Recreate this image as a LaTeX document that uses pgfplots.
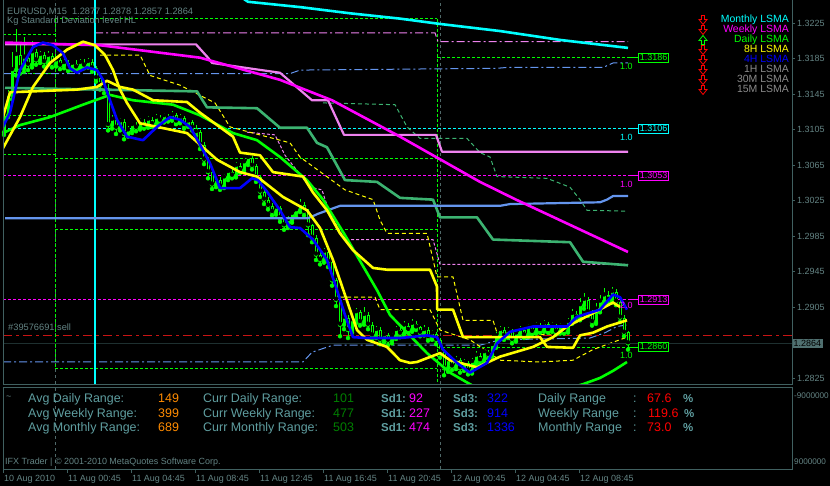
\documentclass[border=0pt]{standalone}
\usepackage{pgfplots}
\pgfplotsset{compat=1.18}
\usepackage{pgfplotstable}
\usepackage{fontspec}
\setmainfont{Liberation Sans}
\definecolor{axcol}{RGB}{64,96,96}
\definecolor{axbox}{RGB}{80,112,112}
\definecolor{txtcol}{RGB}{100,132,132}
\definecolor{cadet}{RGB}{95,158,160}
\definecolor{mlime}{RGB}{0,255,0}
\definecolor{mcyan}{RGB}{0,255,255}
\definecolor{mmag}{RGB}{255,0,255}
\definecolor{morchid}{RGB}{238,130,238}
\definecolor{msea}{RGB}{60,179,113}
\definecolor{mcorn}{RGB}{100,149,237}
\definecolor{myel}{RGB}{255,255,0}
\definecolor{mblue}{RGB}{0,0,255}
\definecolor{mred}{RGB}{255,0,0}
\definecolor{mgreen}{RGB}{0,128,0}
\definecolor{morange}{RGB}{255,140,0}
\definecolor{mgray}{RGB}{140,140,140}
\definecolor{ordred}{RGB}{200,20,20}
\definecolor{curline}{RGB}{30,48,48}
\definecolor{sepcol}{RGB}{80,105,105}
\newcommand\fA{\fontsize{9}{10}\selectfont}
\newcommand\fS{\fontsize{8.2}{10}\selectfont}
\newcommand\fT{\fontsize{9.3}{11}\selectfont}
\newcommand\fL{\fontsize{10.5}{12}\selectfont}
\newcommand\fP{\fontsize{12.5}{14}\selectfont}
\newcommand\fB{\fontsize{11.5}{14}\selectfont\bfseries}
% hollow legend arrows
\newcommand\darr[2]{\draw[#1, line width=0.8bp, shift={(703bp,#2)}] (-1.5bp,4.5bp) -- (1.5bp,4.5bp) -- (1.5bp,0.5bp) -- (4bp,0.5bp) -- (0bp,-4.5bp) -- (-4bp,0.5bp) -- (-1.5bp,0.5bp) -- cycle;}
\newcommand\uarr[2]{\draw[#1, line width=0.8bp, shift={(703bp,#2)}] (-1.5bp,-4.5bp) -- (1.5bp,-4.5bp) -- (1.5bp,-0.5bp) -- (4bp,-0.5bp) -- (0bp,4.5bp) -- (-4bp,-0.5bp) -- (-1.5bp,-0.5bp) -- cycle;}

\pgfplotstableread{
i o h l c
0 1.3102 1.3125 1.3099 1.3121
1 1.3121 1.3150 1.3119 1.3144
2 1.3144 1.3192 1.3139 1.3172
3 1.3172 1.3218 1.3166 1.3189
4 1.3189 1.3200 1.3168 1.3174
5 1.3174 1.3209 1.3170 1.3186
6 1.3186 1.3190 1.3172 1.3178
7 1.3178 1.3205 1.3175 1.3192
8 1.3192 1.3196 1.3178 1.3183
9 1.3183 1.3193 1.3180 1.3189
10 1.3189 1.3192 1.3176 1.3181
11 1.3181 1.3194 1.3178 1.3188
12 1.3188 1.3191 1.3175 1.3179
13 1.3179 1.3187 1.3176 1.3183
14 1.3183 1.3186 1.3173 1.3177
15 1.3177 1.3184 1.3174 1.3180
16 1.3180 1.3183 1.3171 1.3174
17 1.3174 1.3182 1.3172 1.3179
18 1.3179 1.3183 1.3172 1.3175
19 1.3175 1.3185 1.3173 1.3180
20 1.3180 1.3184 1.3174 1.3177
21 1.3177 1.3186 1.3175 1.3181
22 1.3181 1.3184 1.3170 1.3174
23 1.3174 1.3177 1.3159 1.3163
24 1.3163 1.3167 1.3150 1.3155
25 1.3155 1.3160 1.3146 1.3152
26 1.3152 1.3156 1.3104 1.3110
27 1.3110 1.3121 1.3106 1.3116
28 1.3116 1.3119 1.3100 1.3107
29 1.3107 1.3118 1.3104 1.3114
30 1.3114 1.3117 1.3094 1.3100
31 1.3100 1.3109 1.3097 1.3104
32 1.3104 1.3114 1.3101 1.3110
33 1.3110 1.3113 1.3103 1.3107
34 1.3107 1.3118 1.3105 1.3114
35 1.3114 1.3117 1.3106 1.3109
36 1.3109 1.3120 1.3107 1.3116
37 1.3116 1.3119 1.3108 1.3111
38 1.3111 1.3122 1.3109 1.3118
39 1.3118 1.3121 1.3112 1.3115
40 1.3115 1.3124 1.3113 1.3120
41 1.3120 1.3122 1.3114 1.3117
42 1.3117 1.3126 1.3115 1.3121
43 1.3121 1.3124 1.3111 1.3114
44 1.3114 1.3122 1.3112 1.3118
45 1.3118 1.3120 1.3106 1.3110
46 1.3110 1.3117 1.3108 1.3114
47 1.3114 1.3116 1.3104 1.3107
48 1.3107 1.3110 1.3098 1.3102
49 1.3102 1.3105 1.3083 1.3088
50 1.3088 1.3091 1.3066 1.3071
51 1.3071 1.3074 1.3050 1.3057
52 1.3057 1.3060 1.3038 1.3043
53 1.3043 1.3052 1.3040 1.3048
54 1.3048 1.3051 1.3037 1.3041
55 1.3041 1.3055 1.3039 1.3051
56 1.3051 1.3061 1.3048 1.3057
57 1.3057 1.3060 1.3050 1.3053
58 1.3053 1.3068 1.3051 1.3064
59 1.3064 1.3067 1.3056 1.3059
60 1.3059 1.3072 1.3057 1.3068
61 1.3068 1.3077 1.3065 1.3073
62 1.3073 1.3075 1.3060 1.3064
63 1.3064 1.3066 1.3046 1.3051
64 1.3051 1.3054 1.3029 1.3035
65 1.3035 1.3038 1.3021 1.3026
66 1.3026 1.3029 1.3015 1.3019
67 1.3019 1.3022 1.3008 1.3012
68 1.3012 1.3020 1.3009 1.3017
69 1.3017 1.3019 1.3001 1.3005
70 1.3005 1.3008 1.2992 1.2997
71 1.2997 1.3007 1.2994 1.3003
72 1.3003 1.3013 1.3000 1.3010
73 1.3010 1.3018 1.3007 1.3014
74 1.3014 1.3027 1.3012 1.3020
75 1.3020 1.3023 1.3008 1.3012
76 1.3012 1.3015 1.2986 1.2997
77 1.2997 1.2999 1.2978 1.2983
78 1.2983 1.2986 1.2958 1.2964
79 1.2964 1.2968 1.2953 1.2958
80 1.2958 1.2971 1.2955 1.2967
81 1.2967 1.2969 1.2950 1.2956
82 1.2956 1.2959 1.2929 1.2935
83 1.2935 1.2938 1.2906 1.2913
84 1.2913 1.2916 1.2872 1.2885
85 1.2885 1.2898 1.2880 1.2893
86 1.2893 1.2896 1.2870 1.2879
87 1.2879 1.2895 1.2876 1.2890
88 1.2890 1.2904 1.2887 1.2899
89 1.2899 1.2902 1.2884 1.2888
90 1.2888 1.2905 1.2885 1.2896
91 1.2896 1.2899 1.2880 1.2885
92 1.2885 1.2888 1.2867 1.2873
93 1.2873 1.2884 1.2870 1.2879
94 1.2879 1.2882 1.2863 1.2868
95 1.2868 1.2877 1.2865 1.2873
96 1.2873 1.2876 1.2862 1.2867
97 1.2867 1.2876 1.2864 1.2872
98 1.2872 1.2884 1.2869 1.2879
99 1.2879 1.2882 1.2871 1.2875
100 1.2875 1.2889 1.2873 1.2884
101 1.2884 1.2887 1.2876 1.2879
102 1.2879 1.2891 1.2877 1.2886
103 1.2886 1.2889 1.2879 1.2882
104 1.2882 1.2884 1.2872 1.2876
105 1.2876 1.2885 1.2873 1.2879
106 1.2879 1.2882 1.2867 1.2871
107 1.2871 1.2879 1.2868 1.2875
108 1.2875 1.2877 1.2863 1.2868
109 1.2868 1.2870 1.2848 1.2854
110 1.2854 1.2857 1.2828 1.2836
111 1.2836 1.2849 1.2832 1.2845
112 1.2845 1.2848 1.2834 1.2838
113 1.2838 1.2850 1.2835 1.2845
114 1.2845 1.2847 1.2831 1.2836
115 1.2836 1.2846 1.2833 1.2842
116 1.2842 1.2844 1.2829 1.2833
117 1.2833 1.2848 1.2830 1.2843
118 1.2843 1.2855 1.2840 1.2850
119 1.2850 1.2853 1.2841 1.2845
120 1.2845 1.2858 1.2843 1.2854
121 1.2854 1.2857 1.2847 1.2851
122 1.2851 1.2866 1.2849 1.2862
123 1.2862 1.2877 1.2859 1.2872
124 1.2872 1.2884 1.2869 1.2879
125 1.2879 1.2882 1.2868 1.2872
126 1.2872 1.2882 1.2870 1.2878
127 1.2878 1.2880 1.2864 1.2868
128 1.2868 1.2879 1.2866 1.2875
129 1.2875 1.2884 1.2872 1.2879
130 1.2879 1.2882 1.2870 1.2873
131 1.2873 1.2886 1.2871 1.2882
132 1.2882 1.2884 1.2874 1.2877
133 1.2877 1.2888 1.2875 1.2884
134 1.2884 1.2887 1.2876 1.2879
135 1.2879 1.2890 1.2877 1.2886
136 1.2886 1.2888 1.2876 1.2879
137 1.2879 1.2888 1.2877 1.2884
138 1.2884 1.2886 1.2874 1.2877
139 1.2877 1.2887 1.2875 1.2883
140 1.2883 1.2885 1.2875 1.2878
141 1.2878 1.2893 1.2876 1.2888
142 1.2888 1.2903 1.2886 1.2897
143 1.2897 1.2900 1.2889 1.2893
144 1.2893 1.2915 1.2890 1.2907
145 1.2907 1.2921 1.2903 1.2913
146 1.2913 1.2916 1.2895 1.2899
147 1.2899 1.2902 1.2884 1.2888
148 1.2888 1.2909 1.2886 1.2902
149 1.2902 1.2918 1.2899 1.2911
150 1.2911 1.2926 1.2908 1.2918
151 1.2918 1.2923 1.2909 1.2913
152 1.2913 1.2928 1.2910 1.2922
153 1.2922 1.2925 1.2907 1.2911
154 1.2911 1.2914 1.2888 1.2893
155 1.2893 1.2896 1.2872 1.2876
156 1.2877 1.2878 1.2857 1.2864
}\candles

\begin{document}
\begin{tikzpicture}
\useasboundingbox (0,0) rectangle (830bp,486bp);
\fill[black] (0,0) rectangle (830bp,486bp);
\clip (0,0) rectangle (830bp,486bp);

% ---------------- main price chart ----------------
\begin{axis}[
  at={(3bp,102bp)}, anchor=south west, scale only axis,
  width=789bp, height=384bp,
  xmin=-0.25, xmax=197, ymin=1.28182, ymax=1.32510,
  axis line style={draw=none},
  xtick=\empty,
  ytick={1.2825,1.2905,1.2945,1.2985,1.3025,1.3065,1.3105,1.3145,1.3185,1.3225},
  ytick pos=right, yticklabel pos=right,
  tick align=outside, major tick length=3bp,
  tick style={axcol, line width=0.8bp},
  scaled y ticks=false,
  yticklabel style={/pgf/number format/fixed, /pgf/number format/fixed zerofill,
    /pgf/number format/precision=4, /pgf/number format/assume math mode=true,
    font=\fA, text=txtcol, anchor=west, inner sep=0pt, xshift=2bp},
  clip mode=individual,
  every axis plot/.append style={forget plot, line join=round},
]
% day separators
\addplot[sepcol, line width=0.8bp, dash pattern=on 3bp off 3bp] coordinates {(12.75,1.28182) (12.75,1.32510)};
\addplot[sepcol, line width=0.8bp, dash pattern=on 3bp off 3bp] coordinates {(109,1.28182) (109,1.32510)};
% standard deviation levels (green)
\addplot[mlime, line width=0.8bp, dash pattern=on 3bp off 2bp] coordinates {(-0.25,1.3212) (12.75,1.3212)};
\addplot[mlime, line width=0.8bp, dash pattern=on 3bp off 2bp] coordinates {(-0.25,1.3168) (12.75,1.3168)};
\addplot[mlime, line width=0.8bp, dash pattern=on 3bp off 2bp] coordinates {(-0.25,1.3121) (12.75,1.3121)};
\addplot[mlime, line width=0.8bp, dash pattern=on 3bp off 2bp] coordinates {(-0.25,1.3077) (12.75,1.3077)};
\addplot[mlime, line width=0.8bp, dash pattern=on 3bp off 2bp] coordinates {(12.75,1.3230) (108.25,1.3230)};
\addplot[mlime, line width=0.8bp, dash pattern=on 3bp off 2bp] coordinates {(12.75,1.3072) (108.25,1.3072)};
\addplot[mlime, line width=0.8bp, dash pattern=on 3bp off 2bp] coordinates {(12.75,1.2993) (108.25,1.2993)};
\addplot[mlime, line width=0.8bp, dash pattern=on 3bp off 2bp] coordinates {(12.75,1.2836) (108.25,1.2836)};
\addplot[mlime, line width=0.8bp, dash pattern=on 3bp off 2bp] coordinates {(108.25,1.3186) (156,1.3186)};
\addplot[mlime, line width=0.8bp, dash pattern=on 3bp off 2bp] coordinates {(108.25,1.2860) (156,1.2860)};
\addplot[mlime, line width=0.8bp, dash pattern=on 3bp off 2bp] coordinates {(12.75,1.3230) (12.75,1.2836)};
\addplot[mlime, line width=0.8bp, dash pattern=on 3bp off 2bp] coordinates {(108.25,1.3230) (108.25,1.28182)};
% other levels
\addplot[mcyan, line width=0.8bp, dash pattern=on 3bp off 2bp] coordinates {(-0.25,1.3106) (156,1.3106)};
\addplot[mmag, line width=0.8bp, dash pattern=on 3bp off 2bp] coordinates {(-0.25,1.3053) (156,1.3053)};
\addplot[mmag, line width=0.8bp, dash pattern=on 3bp off 2bp] coordinates {(-0.25,1.2913) (156,1.2913)};
\addplot[mcorn, line width=1bp, dash pattern=on 8bp off 3bp on 2bp off 3bp] coordinates {(-0.25,1.3168) (71.5,1.3168) (74,1.3172) (123.25,1.3174) (125.75,1.3175) (149.75,1.3175) (152.25,1.3180) (156,1.3180)};
\addplot[mcorn, line width=1bp, dash pattern=on 8bp off 3bp on 2bp off 3bp] coordinates {(-0.25,1.2843) (74.75,1.2843) (77,1.2854) (82.25,1.2862) (119,1.2862) (124,1.2868) (146.5,1.2870) (150.25,1.2876) (153.25,1.2883) (156,1.2885)};
\addplot[morchid, line width=1bp, dash pattern=on 8bp off 3bp on 2bp off 3bp] coordinates {(22.75,1.3214) (107.75,1.3214) (108.5,1.3204) (156,1.3204)};
\addplot[morchid, line width=1bp, dash pattern=on 3bp off 2bp] coordinates {(60.75,1.3102) (67.75,1.3099) (70.25,1.3076) (76.5,1.3040) (79.5,1.3037) (81.5,1.3009) (85.25,1.2981) (107.25,1.2981) (109,1.2953) (156,1.2953)};
\addplot[myel, line width=1bp, dash pattern=on 4bp off 3bp] coordinates {(24,1.3189) (34,1.3189) (36.5,1.3166) (44,1.3155) (52.75,1.3135) (56.5,1.3108) (62.25,1.3101) (71.5,1.3090) (74,1.3074) (85.25,1.3037) (92.25,1.3026) (94,1.3003) (95.75,1.2988) (105.75,1.2988) (108.25,1.2939) (112.25,1.2939) (114.75,1.2890) (122.25,1.2890) (123.25,1.2876) (139,1.2873)};
\addplot[myel, line width=1bp, dash pattern=on 4bp off 3bp] coordinates {(84,1.2916) (92.75,1.2916) (94,1.2902) (106.5,1.2902) (109,1.2879) (116.5,1.2868) (124,1.2845) (134,1.2843) (142.25,1.2845) (147.25,1.2857) (155.75,1.2871)};
\addplot[msea, line width=1bp, dash pattern=on 4bp off 3bp] coordinates {(79.75,1.3135) (97.75,1.3133) (100.75,1.3108) (104,1.3095) (115.75,1.3095) (119,1.3079) (121.5,1.3074) (123.25,1.3052) (135.75,1.3050) (141.5,1.3040) (144,1.3026) (145.75,1.3014) (156,1.3013)};
% order line and current price line
\addplot[ordred, line width=1bp, dash pattern=on 9bp off 4bp on 3bp off 4bp] coordinates {(-0.25,1.2873) (197,1.2873)};
\addplot[curline, line width=0.8bp] coordinates {(-0.25,1.2864) (197,1.2864)};
% vertical line
\addplot[mcyan, line width=2.6bp] coordinates {(22.75,1.28182) (22.75,1.32510)};
% candles: wicks, bodies, hollow bearish bodies
\addplot[mlime, only marks, mark=none, error bars/.cd, y dir=plus, y explicit, error mark=none,
  error bar style={line width=0.9bp, mlime, solid}]
  table[x=i, y=l, y error expr=\thisrow{h}-\thisrow{l}] {\candles};
\addplot[mlime, only marks, mark=none, error bars/.cd, y dir=plus, y explicit, error mark=none,
  error bar style={line width=3bp, mlime, solid}]
  table[x=i, y expr={min(\thisrow{o},\thisrow{c})}, y error expr={abs(\thisrow{c}-\thisrow{o})}] {\candles};
\addplot[black, only marks, mark=none, error bars/.cd, y dir=plus, y explicit, error mark=none,
  error bar style={line width=1bp, black, solid}]
  table[x=i, y expr={\thisrow{c}+0.00012}, y error expr={max(\thisrow{o}-\thisrow{c}-0.00024,0)}] {\candles};
% LSMA lines
\addplot[msea, line width=2.6bp] coordinates {(0.25,1.3152) (48.25,1.3148) (50.75,1.3130) (63.25,1.3129) (69,1.3107) (75.75,1.3107) (78.25,1.3090) (80.75,1.3085) (85.25,1.3048) (93.25,1.3046) (99,1.3028) (107.25,1.3026) (109,1.3006) (118.25,1.3006) (122.25,1.2981) (141.5,1.2978) (144.75,1.2956) (156,1.2952)};
\addplot[mcorn, line width=2.2bp] coordinates {(0.25,1.3005) (76,1.3005) (78.5,1.3010) (82.75,1.3017) (84,1.3019) (124,1.3019) (126.5,1.3021) (149,1.3023) (150.75,1.3026) (152.25,1.3030) (156,1.3030)};
\addplot[mlime, line width=2.6bp] coordinates {(-0.25,1.3101) (4,1.3110) (11.5,1.3119) (19.75,1.3133) (26.5,1.3144) (32.25,1.3138) (42.25,1.3133) (49,1.3121) (57.25,1.3101) (63.25,1.3093) (69,1.3074) (75.75,1.3048) (79.75,1.3026) (85.25,1.2986) (93.25,1.2924) (96.5,1.2896) (105.75,1.2853) (111.5,1.2831) (116.5,1.2818) (119,1.2812)};
\addplot[mlime, line width=2.6bp] coordinates {(140,1.2812) (144.75,1.2818) (149,1.2825) (152.25,1.2833) (155.75,1.2843)};
\addplot[morchid, line width=2.2bp] coordinates {(0.25,1.3201) (48,1.3201) (51,1.3186) (52,1.3180) (69,1.3169) (77,1.3138) (81,1.3138) (85,1.3099) (108,1.3099) (109.5,1.3080) (156,1.3080)};
\addplot[mmag, line width=2.6bp] coordinates {(0.25,1.3203) (24,1.3200) (49,1.3186) (69,1.3161) (82,1.3138) (99,1.3097) (119,1.3046) (128,1.3026) (156,1.2967)};
\addplot[mcyan, line width=2.6bp] coordinates {(60,1.3252) (61,1.3249) (74,1.3243) (86.5,1.3236) (99,1.3230) (109,1.3224) (124,1.3216) (139,1.3206) (156,1.3197)};
\addplot[myel, line width=2.6bp] coordinates {(-0.25,1.3119) (1.5,1.3147) (18.25,1.3150) (23.25,1.3153) (25.75,1.3160) (29,1.3153) (32.25,1.3150) (37.25,1.3138) (45.75,1.3136) (49,1.3124) (57.25,1.3097) (59,1.3079) (64,1.3076) (67.25,1.3057) (74.75,1.3052) (77.25,1.3034) (80.75,1.3014) (84,1.2988) (87.25,1.2969) (92.25,1.2949) (95.75,1.2947) (106.5,1.2947) (108.25,1.2928) (108.3,1.2902) (112.25,1.2902) (114.75,1.2871) (134,1.2871) (135.75,1.2860) (142.25,1.2859) (144,1.2873) (147.25,1.2876) (150.75,1.2883) (155.75,1.2890)};
\addplot[myel, line width=2.6bp] coordinates {(-0.25,1.3084) (4,1.3119) (7.25,1.3153) (11.5,1.3180) (15.75,1.3195) (19.75,1.3204) (22.75,1.3200) (25.25,1.3189) (27.25,1.3172) (29,1.3150) (30.75,1.3135) (34,1.3112) (45.75,1.3101) (49,1.3088) (53.25,1.3071) (59,1.3057) (63.25,1.3052) (69.75,1.3029) (75.75,1.3014) (79,1.2994) (82.25,1.2958) (84,1.2935) (86.5,1.2902) (88.25,1.2879) (90.75,1.2868) (95.75,1.2860) (99,1.2845) (101.5,1.2842) (103.25,1.2843) (109,1.2853) (111.5,1.2845) (118.25,1.2837) (124,1.2849) (132.25,1.2860) (137.25,1.2871) (140.75,1.2883) (147.25,1.2898) (152.25,1.2910) (154,1.2905)};
\addplot[mblue, line width=2.6bp] coordinates {(-0.25,1.3108) (1.5,1.3124) (4,1.3172) (7.25,1.3198) (9.75,1.3203) (12.25,1.3200) (14.75,1.3191) (16.5,1.3174) (18.25,1.3169) (20.75,1.3175) (23.25,1.3172) (24.75,1.3161) (26.5,1.3138) (28.25,1.3116) (30.75,1.3097) (34.75,1.3093) (38.25,1.3108) (41.5,1.3119) (44,1.3116) (46.5,1.3108) (49,1.3088) (51.5,1.3067) (54,1.3039) (59,1.3039) (62,1.3050) (63.5,1.3048) (65.75,1.3035) (69,1.3014) (71.5,1.2995) (74,1.2994) (77.25,1.2981) (80.75,1.2958) (83.25,1.2924) (85.25,1.2896) (87.25,1.2871) (90.75,1.2870) (99,1.2870) (105.75,1.2873) (108.25,1.2871) (109.75,1.2857) (113.25,1.2842) (116.5,1.2831) (120.75,1.2842) (123.25,1.2864) (126.5,1.2877) (132.25,1.2883) (140.75,1.2883) (143.25,1.2894) (149,1.2902) (152.25,1.2919) (154,1.2916) (155.75,1.2902)};
% level labels
\draw[mlime, line width=0.8bp] (axis cs:156,1.3186) -- (axis cs:158.5,1.3186);
\node[draw=mlime, text=mlime, fill=black, anchor=west, inner sep=1.5bp, line width=0.8bp, font=\fA] at (axis cs:158.5,1.3186) {1.3186};
\node[text=mlime, anchor=north, inner sep=0pt, font=\fA] at (axis cs:155.6,1.3180) {1.0};
\draw[mcyan, line width=0.8bp] (axis cs:156,1.3106) -- (axis cs:158.5,1.3106);
\node[draw=mcyan, text=mcyan, fill=black, anchor=west, inner sep=1.5bp, line width=0.8bp, font=\fA] at (axis cs:158.5,1.3106) {1.3106};
\node[text=mcyan, anchor=north, inner sep=0pt, font=\fA] at (axis cs:155.6,1.3100) {1.0};
\draw[mmag, line width=0.8bp] (axis cs:156,1.3053) -- (axis cs:158.5,1.3053);
\node[draw=mmag, text=mmag, fill=black, anchor=west, inner sep=1.5bp, line width=0.8bp, font=\fA] at (axis cs:158.5,1.3053) {1.3053};
\node[text=mmag, anchor=north, inner sep=0pt, font=\fA] at (axis cs:155.6,1.3047) {1.0};
\draw[mmag, line width=0.8bp] (axis cs:156,1.2913) -- (axis cs:158.5,1.2913);
\node[draw=mmag, text=mmag, fill=black, anchor=west, inner sep=1.5bp, line width=0.8bp, font=\fA] at (axis cs:158.5,1.2913) {1.2913};
\node[text=mmag, anchor=north, inner sep=0pt, font=\fA] at (axis cs:155.6,1.2911) {2.0};
\draw[mlime, line width=0.8bp] (axis cs:156,1.2860) -- (axis cs:158.5,1.2860);
\node[draw=mlime, text=mlime, fill=black, anchor=west, inner sep=1.5bp, line width=0.8bp, font=\fA] at (axis cs:158.5,1.2860) {1.2860};
\node[text=mlime, anchor=north, inner sep=0pt, font=\fA] at (axis cs:155.6,1.2854) {1.0};
% current price box
\node[fill=axbox, text=black, anchor=west, inner sep=1.5bp, font=\fA] at (axis cs:197,1.2864) {1.2864};
% frame
\draw[axcol, line width=0.8bp] (rel axis cs:0,1) -- (rel axis cs:0,0) -- (rel axis cs:1,0) -- (rel axis cs:1,1);
\end{axis}

% ---------------- bottom panel ----------------
\begin{axis}[
  at={(3bp,17bp)}, anchor=south west, scale only axis,
  width=789bp, height=82bp,
  xmin=-0.25, xmax=197, ymin=0, ymax=1,
  axis line style={axcol, line width=0.8bp},
  ytick=\empty,
  xtick={-0.25,15.75,31.75,47.75,63.75,79.75,95.75,111.75,127.75,143.75},
  xticklabels={10 Aug 2010,11 Aug 00:45,11 Aug 04:45,11 Aug 08:45,11 Aug 12:45,11 Aug 16:45,11 Aug 20:45,12 Aug 00:45,12 Aug 04:45,12 Aug 08:45},
  xtick pos=bottom, tick align=outside, major tick length=4bp,
  tick style={axcol, line width=0.8bp},
  xticklabel style={font=\fA, text=txtcol, anchor=north west, inner sep=0pt, xshift=1bp, yshift=-2bp},
  clip mode=individual,
  every axis plot/.append style={forget plot},
]
\addplot[sepcol, line width=0.8bp, dash pattern=on 3bp off 3bp] coordinates {(12.75,0) (12.75,1)};
\addplot[sepcol, line width=0.8bp, dash pattern=on 3bp off 3bp] coordinates {(109,0) (109,1)};
\end{axis}

% ---------------- texts ----------------
\node[anchor=base west, inner sep=0pt, font=\fT, text=txtcol] at (7bp,471bp) {EURUSD,M15\ \ 1.2877 1.2878 1.2857 1.2864};
\node[anchor=base west, inner sep=0pt, font=\fT, text=txtcol] at (7bp,462bp) {Kg Standard Deviation level HL};
\node[anchor=base west, inner sep=0pt, font=\fT, text=txtcol] at (8bp,155bp) {\#39576691 sell};

% legend
\node[anchor=mid east, inner sep=0pt, font=\fL, text=mcyan] at (789bp,466bp) {Monthly LSMA};
\node[anchor=mid east, inner sep=0pt, font=\fL, text=mmag] at (789bp,456bp) {Weekly LSMA};
\node[anchor=mid east, inner sep=0pt, font=\fL, text=mlime] at (789bp,446bp) {Daily LSMA};
\node[anchor=mid east, inner sep=0pt, font=\fL, text=myel] at (789bp,436bp) {8H LSMA};
\node[anchor=mid east, inner sep=0pt, font=\fL, text=mblue] at (789bp,426bp) {4H LSMA};
\node[anchor=mid east, inner sep=0pt, font=\fL, text=mgray] at (789bp,416bp) {1H LSMA};
\node[anchor=mid east, inner sep=0pt, font=\fL, text=mgray] at (789bp,406bp) {30M LSMA};
\node[anchor=mid east, inner sep=0pt, font=\fL, text=mgray] at (789bp,396bp) {15M LSMA};
\darr{mred}{466bp}
\darr{mred}{456bp}
\uarr{mlime}{446bp}
\darr{mred}{436bp}
\darr{mred}{426bp}
\darr{mred}{416bp}
\darr{mred}{406bp}
\darr{mred}{396bp}

% bottom panel texts
\node[anchor=base west, inner sep=0pt, font=\fA, text=txtcol] at (6bp,86bp) {\textasciitilde};
\node[anchor=mid west, inner sep=0pt, font=\fS, text=txtcol] at (794bp,90bp) {-9000000};
\node[anchor=mid west, inner sep=0pt, font=\fS, text=txtcol] at (794bp,24bp) {9000000};
\node[anchor=mid west, inner sep=0pt, font=\fA, text=txtcol] at (5bp,24bp) {IFX Trader | \textcopyright{} 2001-2010 MetaQuotes Software Corp.};

\begin{scope}[every node/.style={anchor=base west, inner sep=0pt, font=\fP}]
\node[text=cadet] at (28bp,83bp) {Avg Daily Range:};
\node[text=cadet] at (28bp,68bp) {Avg Weekly Range:};
\node[text=cadet] at (28bp,54bp) {Avg Monthly Range:};
\node[text=morange] at (158bp,83bp) {149};
\node[text=morange] at (158bp,68bp) {399};
\node[text=morange] at (158bp,54bp) {689};
\node[text=cadet] at (203bp,83bp) {Curr Daily Range:};
\node[text=cadet] at (203bp,68bp) {Curr Weekly Range:};
\node[text=cadet] at (203bp,54bp) {Curr Monthly Range:};
\node[text=mgreen] at (333bp,83bp) {101};
\node[text=mgreen] at (333bp,68bp) {477};
\node[text=mgreen] at (333bp,54bp) {503};
\node[text=cadet, font=\fB] at (381bp,83bp) {Sd1:};
\node[text=cadet, font=\fB] at (381bp,68bp) {Sd1:};
\node[text=cadet, font=\fB] at (381bp,54bp) {Sd1:};
\node[text=mmag] at (409bp,83bp) {92};
\node[text=mmag] at (409bp,68bp) {227};
\node[text=mmag] at (409bp,54bp) {474};
\node[text=cadet, font=\fB] at (453bp,83bp) {Sd3:};
\node[text=cadet, font=\fB] at (453bp,68bp) {Sd3:};
\node[text=cadet, font=\fB] at (453bp,54bp) {Sd3:};
\node[text=mblue] at (487bp,83bp) {322};
\node[text=mblue] at (487bp,68bp) {914};
\node[text=mblue] at (487bp,54bp) {1336};
\node[text=cadet] at (538bp,83bp) {Daily Range};
\node[text=cadet] at (538bp,68bp) {Weekly Range};
\node[text=cadet] at (538bp,54bp) {Monthly Range};
\node[text=cadet] at (633bp,83bp) {:};
\node[text=cadet] at (633bp,68bp) {:};
\node[text=cadet] at (633bp,54bp) {:};
\node[text=mred] at (647bp,83bp) {67.6};
\node[text=mred] at (648bp,68bp) {119.6};
\node[text=mred] at (647bp,54bp) {73.0};
\node[text=cadet, font=\fB] at (683bp,83bp) {\%};
\node[text=cadet, font=\fB] at (684bp,68bp) {\%};
\node[text=cadet, font=\fB] at (683bp,54bp) {\%};
\end{scope}
\end{tikzpicture}
\end{document}
